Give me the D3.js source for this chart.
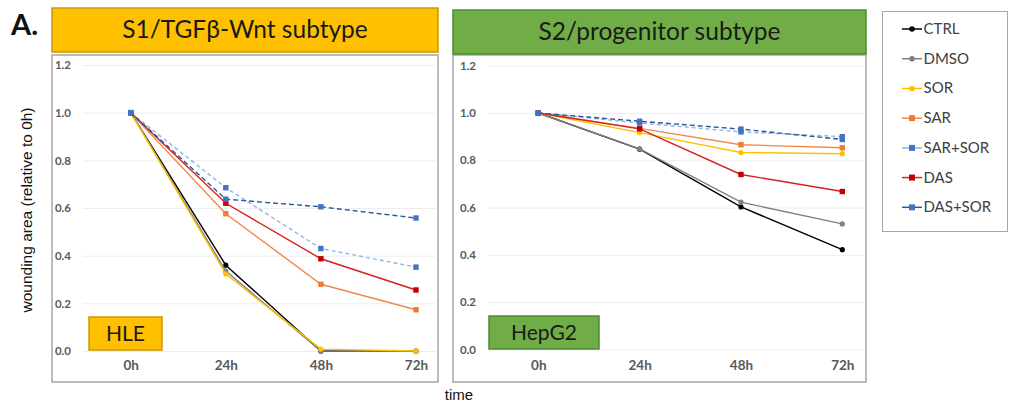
<!DOCTYPE html>
<html><head><meta charset="utf-8">
<script src="https://cdn.jsdelivr.net/npm/d3@7"></script>
<style>
html,body{margin:0;padding:0;background:#fff;}
svg{display:block;}
</style></head>
<body><svg id="c" width="1009" height="405"></svg>
<script>
const timepoints = ["0h","24h","48h","72h"];
const seriesNames = ["CTRL","DMSO","SOR","SAR","SAR+SOR","DAS","DAS+SOR"];
const yTicks = [0,0.2,0.4,0.6,0.8,1.0,1.2];
// HLE (S1/TGFβ-Wnt subtype)
const hleCTRL   = [1.0, 0.36, 0.0, 0.0];
const hleDMSO   = [1.0, 0.335, 0.0, 0.0];
const hleSOR    = [1.0, 0.323, 0.008, 0.0];
const hleSAR    = [1.0, 0.576, 0.28, 0.173];
const hleSARSOR = [1.0, 0.685, 0.43, 0.352];
const hleDAS    = [1.0, 0.62, 0.387, 0.256];
const hleDASSOR = [1.0, 0.637, 0.605, 0.558];
// HepG2 (S2/progenitor subtype)
const hepCTRL   = [1.0, 0.847, 0.603, 0.422];
const hepDMSO   = [1.0, 0.848, 0.623, 0.531];
const hepSOR    = [1.0, 0.917, 0.833, 0.828];
const hepSAR    = [1.0, 0.935, 0.866, 0.853];
const hepSARSOR = [1.0, 0.958, 0.92, 0.9];
const hepDAS    = [1.0, 0.933, 0.74, 0.668];
const hepDASSOR = [1.0, 0.965, 0.932, 0.888];

const styles = {
  "CTRL":    {line:"#000000", mark:"#000000", shape:"circle", dash:null},
  "DMSO":    {line:"#808080", mark:"#808080", shape:"circle", dash:null},
  "SOR":     {line:"#FFC000", mark:"#FFC000", shape:"circle", dash:null},
  "SAR":     {line:"#F08A4B", mark:"#ED7D31", shape:"square", dash:null},
  "SAR+SOR": {line:"#8DB6E6", mark:"#4472C4", shape:"square", dash:"4,3"},
  "DAS":     {line:"#D62020", mark:"#C00000", shape:"square", dash:null},
  "DAS+SOR": {line:"#2F5597", mark:"#4472C4", shape:"square", dash:"5,3"}
};

const svg = d3.select("#c");

function panel(cfg){
  const g = svg.append("g");
  g.append("rect").attr("x",cfg.fx0).attr("y",55).attr("width",cfg.fx1-cfg.fx0).attr("height",327)
    .attr("fill","#fff").attr("stroke","#A6A6A6").attr("stroke-width",1.5);
  g.append("rect").attr("x",cfg.fx0).attr("y",cfg.ty).attr("width",cfg.fx1-cfg.fx0).attr("height",44)
    .attr("fill",cfg.fill).attr("stroke",cfg.border).attr("stroke-width",1.5);
  g.append("text").attr("x",(cfg.fx0+cfg.fx1)/2).attr("y",cfg.ty+30).attr("text-anchor","middle")
    .attr("font-family","Lato, 'Open Sans', sans-serif").attr("font-size",24.5).attr("fill","#1a1a1a").text(cfg.title);

  const x = d3.scalePoint().domain(timepoints).range(cfg.xr);
  const y = d3.scaleLinear().domain([0,1.2]).range(cfg.yr);

  const ya = d3.axisLeft(y).tickValues(yTicks).tickFormat(d3.format(".1f"))
    .tickSize(-(cfg.gx1-cfg.gx0)).tickPadding(12);
  const yg = g.append("g").attr("transform",`translate(${cfg.gx0},0)`).call(ya);
  yg.select(".domain").remove();
  yg.selectAll(".tick line").attr("stroke","#EDEDED").attr("stroke-width",1);
  yg.selectAll(".tick text").attr("font-family","Lato, sans-serif").attr("font-weight","bold")
    .attr("font-size",11.5).attr("fill","#595959");

  const xa = d3.axisBottom(x).tickSize(0).tickPadding(0);
  const xg = g.append("g").attr("transform",`translate(0,${cfg.xaxisY})`).call(xa);
  xg.select(".domain").remove();
  xg.selectAll(".tick text").attr("font-family","Lato, sans-serif").attr("font-weight","bold")
    .attr("font-size",13.5).attr("fill","#595959");

  g.append("rect").attr("x",cfg.lb[0]).attr("y",cfg.lb[1]).attr("width",cfg.lb[2]).attr("height",cfg.lb[3])
    .attr("fill",cfg.fill).attr("stroke",cfg.border).attr("stroke-width",1.5);
  g.append("text").attr("x",cfg.lb[0]+cfg.lb[2]/2).attr("y",cfg.lb[1]+cfg.lb[3]/2+7.5).attr("text-anchor","middle")
    .attr("font-family","Lato, 'Open Sans', sans-serif").attr("font-size",21).attr("fill","#1a1a1a").text(cfg.label);

  const line = d3.line().x((d,i)=>x(timepoints[i])).y(d=>y(d));
  seriesNames.forEach((name,si)=>{
    const st = styles[name];
    const vals = cfg.data[si];
    g.append("path").datum(vals).attr("d",line).attr("fill","none")
      .attr("stroke",st.line).attr("stroke-width",1.4)
      .attr("stroke-dasharray",st.dash);
    vals.forEach((v,i)=>{
      if(st.shape==="circle"){
        g.append("circle").attr("cx",x(timepoints[i])).attr("cy",y(v)).attr("r",2.6).attr("fill",st.mark);
      } else {
        g.append("rect").attr("x",x(timepoints[i])-2.7).attr("y",y(v)-2.7).attr("width",5.4).attr("height",5.4).attr("fill",st.mark);
      }
    });
  });
}

panel({fx0:52, fx1:438, ty:8, fill:"#FFC000", border:"#C9980A", title:"S1/TGFβ-Wnt subtype",
  xr:[130.7,416], yr:[351,65], gx0:83, gx1:436, xaxisY:360, lb:[89,317,73,33], label:"HLE",
  data:[hleCTRL,hleDMSO,hleSOR,hleSAR,hleSARSOR,hleDAS,hleDASSOR]});
panel({fx0:453, fx1:866, ty:10, fill:"#70AD47", border:"#4E8A32", title:"S2/progenitor subtype",
  xr:[538.3,842.3], yr:[349.5,65.7], gx0:488, gx1:864, xaxisY:360, lb:[489,316,110,33], label:"HepG2",
  data:[hepCTRL,hepDMSO,hepSOR,hepSAR,hepSARSOR,hepDAS,hepDASSOR]});

svg.append("text").attr("x",11).attr("y",35).attr("font-family","Lato, 'Open Sans', sans-serif")
  .attr("font-weight","bold").attr("font-size",29).attr("fill","#111").text("A.");

svg.append("text").attr("transform","translate(32,210) rotate(-90)").attr("text-anchor","middle")
  .attr("font-family","'Liberation Sans', Arial, sans-serif").attr("font-size",15.5).attr("fill","#111")
  .text("wounding area (relative to 0h)");
svg.append("text").attr("x",459).attr("y",400).attr("text-anchor","middle")
  .attr("font-family","'Liberation Sans', Arial, sans-serif").attr("font-size",15).attr("fill","#111").text("time");

const lg = svg.append("g");
lg.append("rect").attr("x",882.5).attr("y",11.5).attr("width",125).attr("height",220)
  .attr("fill","#fff").attr("stroke","#A6A6A6").attr("stroke-width",1);
const ly = d3.scalePoint().domain(seriesNames).range([29,207.3]);
seriesNames.forEach(name=>{
  const st = styles[name];
  const yy = ly(name);
  lg.append("line").attr("x1",902).attr("x2",922).attr("y1",yy).attr("y2",yy)
    .attr("stroke",st.line).attr("stroke-width",1.5);
  if(st.shape==="circle"){
    lg.append("circle").attr("cx",912).attr("cy",yy).attr("r",2.8).attr("fill",st.mark);
  } else {
    lg.append("rect").attr("x",909).attr("y",yy-3).attr("width",6).attr("height",6).attr("fill",st.mark);
  }
  lg.append("text").attr("x",923.5).attr("y",yy+5).attr("font-family","Lato, 'Open Sans', sans-serif")
    .attr("font-size",15).attr("fill","#404040").text(name);
});
</script></body></html>
